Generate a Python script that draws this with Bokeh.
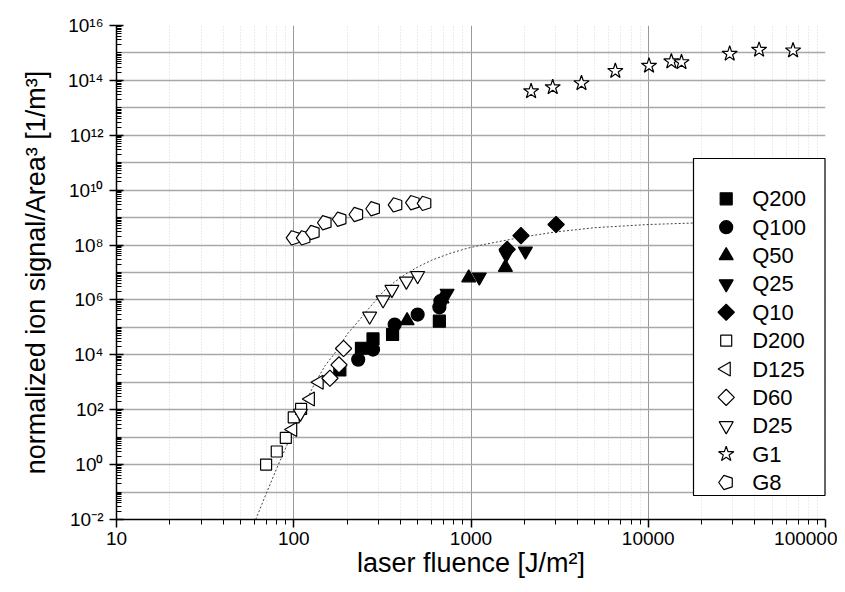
import math
from bokeh.plotting import figure
from bokeh.models import (FixedTicker, Range1d, LinearScale, CustomJSTickFormatter)
from bokeh.core.properties import value
from bokeh.embed import file_html
from bokeh.resources import INLINE

# ---------------- data ----------------
q200_x = [182, 241, 280, 361, 663]
q200_y = [2.8e3, 1.74e4, 3.8e4, 5.5e4, 1.68e5]

q100_x = [231, 280, 371, 500, 663, 672]
q100_y = [6.7e3, 1.56e4, 1.27e5, 2.94e5, 5.4e5, 9.0e5]

q50_x = [436, 686, 971, 1563]
q50_y = [1.77e5, 1.1e6, 6.4e6, 1.55e7]

q25_x = [733, 1114, 1580, 2027]
q25_y = [1.75e6, 6.8e6, 4.5e7, 6.0e7]

q10_x = [1600, 1914, 3020]
q10_y = [7.0e7, 2.2e8, 5.6e8]

d200_x = [69.8, 80.2, 90.2, 100, 110]
d200_y = [1.0, 3.0, 9.4, 53, 107]

d125_x = [98.6, 124, 139]
d125_y = [19, 245, 1000]

d60_x = [160, 180, 191]
d60_y = [1.4e3, 4.3e3, 1.7e4]

d25_x = [109, 268, 319, 358, 432, 500]
d25_y = [74, 2.55e5, 1.0e6, 2.4e6, 4.8e6, 7.7e6]

g1_x = [2183, 2890, 4200, 6520, 10100, 13500, 15400, 28800, 42200, 65600]
g1_y = [4.0e13, 5.6e13, 7.9e13, 2.2e14, 3.4e14, 4.9e14, 4.6e14, 9.3e14, 1.3e15, 1.23e15]

g8_x = [100, 114, 128.5, 150, 182, 226, 281, 376, 471, 548]
g8_y = [1.83e8, 1.83e8, 2.86e8, 6.5e8, 8.7e8, 1.3e9, 2.1e9, 2.9e9, 3.5e9, 3.3e9]

fit_x = [61, 70, 80, 90, 100, 115, 130, 150, 170, 200, 230, 270, 320, 370, 430,
         500, 600, 750, 950, 1200, 1500, 2000, 3000, 5000, 10000, 20000, 50000, 100000]
fit_y = [1.0e-2, 8.9e-2, 0.71, 4.0, 20, 160, 790, 4.0e3, 1.12e4, 5.6e4, 1.6e5, 5.6e5,
         2.0e6, 4.5e6, 8.9e6, 1.58e7, 2.8e7, 4.8e7, 7.6e7, 1.07e8, 1.41e8, 2.0e8,
         3.0e8, 4.3e8, 5.6e8, 6.5e8, 7.1e8, 7.4e8]

x_major = [10, 100, 1000, 10000, 100000]
y_major_exp = list(range(-2, 17, 2))
y_grid_exp = list(range(-2, 17))

legend_labels = ["Q200", "Q100", "Q50", "Q25", "Q10", "D200", "D125", "D60", "D25", "G1", "G8"]

FONT = "Liberation Sans"

# ---------------- figure ----------------
p = figure(width=837, height=584, x_axis_type="log", y_axis_type="log",
           x_range=Range1d(10, 100000), y_range=Range1d(1e-2, 1e16),
           output_backend="svg", toolbar_location=None,
           min_border_left=116, min_border_right=12, min_border_top=25,
           min_border_bottom=65)
p.outline_line_color = None
p.background_fill_color = "white"

# pixel-space ranges of the frame (used only to lay out the legend box)
FRAME_W, FRAME_H = 709, 494
p.extra_x_ranges = {"px": Range1d(0, FRAME_W)}
p.extra_y_ranges = {"px": Range1d(0, FRAME_H)}
p.extra_x_scales = {"px": LinearScale()}
p.extra_y_scales = {"px": LinearScale()}

x_minor = [m * 10 ** k for k in range(1, 5) for m in range(2, 10)]
p.xaxis.ticker = FixedTicker(ticks=x_major, minor_ticks=x_minor)
p.xgrid.ticker = FixedTicker(ticks=x_major, minor_ticks=x_minor)
y_major = [10.0 ** e for e in y_major_exp]
y_minor = [m * 10.0 ** k for k in range(-2, 16) for m in range(1, 10)]
p.yaxis.ticker = FixedTicker(ticks=y_major, minor_ticks=y_minor)
p.ygrid.ticker = FixedTicker(ticks=[10.0 ** e for e in y_grid_exp])

p.xaxis.formatter = CustomJSTickFormatter(code="return String(Math.round(tick));")
p.yaxis.formatter = CustomJSTickFormatter(code="""
const e = Math.round(Math.log10(tick));
const sup = {'-':'\u207b','0':'\u2070','1':'\u00b9','2':'\u00b2','3':'\u00b3','4':'\u2074',
             '5':'\u2075','6':'\u2076','7':'\u2077','8':'\u2078','9':'\u2079'};
return '10' + String(e).split('').map(c => sup[c]).join('');
""")

for ax in (p.xaxis[0], p.yaxis[0]):
    ax.axis_line_color = "black"
    ax.axis_line_width = 1.5
    ax.major_tick_line_color = "black"
    ax.minor_tick_line_color = "black"
    ax.major_tick_line_width = 1.5
    ax.minor_tick_line_width = 1
    ax.major_label_text_font = FONT
    ax.major_label_text_color = "black"
    ax.major_label_text_font_size = "19px"
    ax.axis_label_text_font = FONT
    ax.axis_label_text_font_style = "normal"
    ax.axis_label_text_color = "black"
    ax.axis_label_text_font_size = "27px"

p.xaxis.major_tick_out = 8
p.xaxis.major_tick_in = 0
p.xaxis.minor_tick_out = 5
p.xaxis.minor_tick_in = 0
p.yaxis.major_tick_out = 7
p.yaxis.major_tick_in = 7
p.yaxis.minor_tick_out = 0
p.yaxis.minor_tick_in = 5
p.xaxis.major_label_standoff = 4
p.yaxis.major_label_standoff = 6
p.xaxis.axis_label = "laser fluence [J/m\u00b2]"
p.yaxis.axis_label = "normalized ion signal/Area\u00b3 [1/m\u00b3]"
p.xaxis.axis_label_standoff = 0
p.yaxis.axis_label_standoff = 14

p.xgrid.grid_line_color = "#9a9a9a"
p.xgrid.grid_line_width = 1
p.xgrid.minor_grid_line_color = "#d8d8d8"
p.xgrid.minor_grid_line_dash = "1 2"
p.ygrid.grid_line_color = "#a8a8a8"
p.ygrid.grid_line_width = 1.6

# ---------------- fit curve ----------------
p.line(fit_x, fit_y, line_color="#444444", line_width=1, line_dash="2 2")

# ---------------- data series ----------------
STYLE = {
    "Q200": dict(marker="square", size=12, filled=True, angle=0.0),
    "Q100": dict(marker="circle", size=13, filled=True, angle=0.0),
    "Q50": dict(marker="triangle", size=14, filled=True, angle=0.0),
    "Q25": dict(marker="inverted_triangle", size=14, filled=True, angle=0.0),
    "Q10": dict(marker="square", size=11.5, filled=True, angle=math.pi / 4),
    "D200": dict(marker="square", size=11, filled=False, angle=0.0),
    "D125": dict(marker="triangle", size=14, filled=False, angle=math.pi / 2),
    "D60": dict(marker="square", size=11.5, filled=False, angle=math.pi / 4),
    "D25": dict(marker="inverted_triangle", size=14, filled=False, angle=0.0),
    "G1": dict(marker="star", size=16, filled=False, angle=0.0),
}


def sc(x, y, name, x_range_name="default", y_range_name="default", level="glyph",
       size_scale=1.0):
    st = STYLE[name]
    return p.scatter(x, y, marker=st["marker"], size=st["size"] * size_scale,
                     angle=st["angle"],
                     fill_color="black" if st["filled"] else "white",
                     line_color="black", line_width=1.2,
                     x_range_name=x_range_name, y_range_name=y_range_name, level=level)


def pent(x, y, x_range_name="default", y_range_name="default", level="glyph"):
    return p.ngon(x=x, y=y, radius=7.5, radius_units="screen", n=5,
                  angle=math.pi / 2, fill_color="white", line_color="black",
                  line_width=1.2, x_range_name=x_range_name,
                  y_range_name=y_range_name, level=level)


series = {
    "Q200": (q200_x, q200_y), "Q100": (q100_x, q100_y), "Q50": (q50_x, q50_y),
    "Q25": (q25_x, q25_y), "Q10": (q10_x, q10_y), "D200": (d200_x, d200_y),
    "D125": (d125_x, d125_y), "D60": (d60_x, d60_y), "D25": (d25_x, d25_y),
    "G1": (g1_x, g1_y),
}
for name, (xs, ys) in series.items():
    sc(xs, ys, name)
pent(g8_x, g8_y)

# ---------------- legend (box, symbols, labels) ----------------
LEG_L, LEG_R, LEG_B, LEG_T = 577, 708.5, 24, 361
ROW0, ROW_STEP = 320.7, 28.37
SYM_X, TXT_X = 609.7, 635.7
p.quad(left=[LEG_L], right=[LEG_R], bottom=[LEG_B], top=[LEG_T], fill_color="white",
       line_color="black", line_width=1.2, x_range_name="px", y_range_name="px",
       level="overlay")
for i, name in enumerate(legend_labels):
    yy = ROW0 - ROW_STEP * i
    if name == "G8":
        pent([SYM_X], [yy], "px", "px", "overlay")
    else:
        sc([SYM_X], [yy], name, "px", "px", "overlay")
p.text(x=[TXT_X] * len(legend_labels),
       y=[ROW0 - ROW_STEP * i for i in range(len(legend_labels))],
       text=legend_labels, text_font=value(FONT), text_font_size="22px",
       text_color="black", text_baseline="middle", text_align="left",
       x_range_name="px", y_range_name="px", level="overlay")

open("out.html", "w").write(file_html(p, INLINE))
